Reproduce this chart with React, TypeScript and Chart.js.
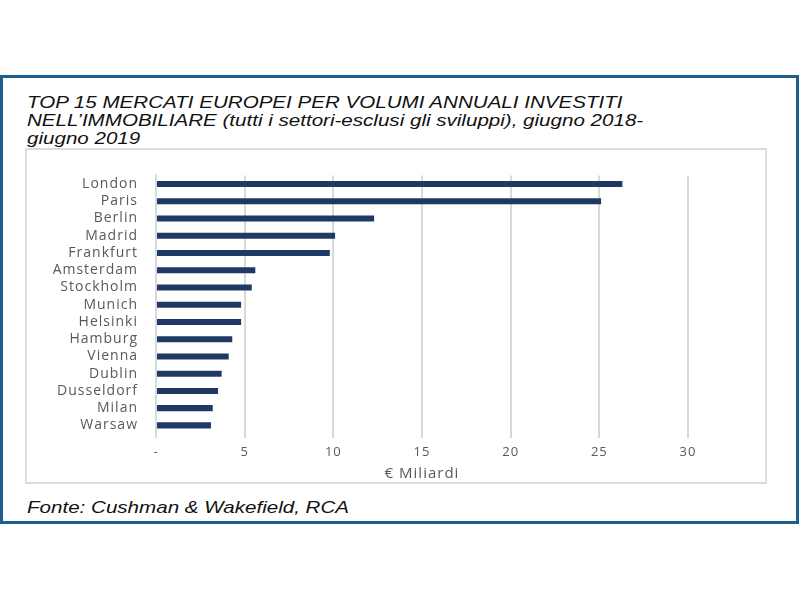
import React, { useEffect, useRef } from "react";
import { Chart, registerables } from "chart.js";

Chart.register(...registerables);

const cities = [
  "London", "Paris", "Berlin", "Madrid", "Frankfurt", "Amsterdam", "Stockholm",
  "Munich", "Helsinki", "Hamburg", "Vienna", "Dublin", "Dusseldorf", "Milan", "Warsaw",
];
const volumes = [26.3, 25.1, 12.3, 10.1, 9.8, 5.6, 5.4, 4.8, 4.8, 4.3, 4.1, 3.7, 3.5, 3.2, 3.1];
const xTicks = [0, 5, 10, 15, 20, 25, 30];
const xTickLabels = ["-", "5", "10", "15", "20", "25", "30"];
const axisTitle = "€ Miliardi";

const spacingPlugin = {
  id: "spacing",
  beforeUpdate(chart: any) {
    chart.ctx.letterSpacing = "1px";
  },
  beforeDraw(chart: any) {
    chart.ctx.letterSpacing = "1px";
  },
};

export default function App() {
  const ref = useRef<HTMLCanvasElement | null>(null);
  useEffect(() => {
    if (!ref.current) return;
    const chart = new Chart(ref.current, {
      type: "bar",
      data: {
        labels: cities,
        datasets: [
          {
            data: volumes,
            backgroundColor: "#1f3864",
            barPercentage: 0.7,
            categoryPercentage: 0.5,
          },
        ],
      },
      plugins: [spacingPlugin],
      options: {
        indexAxis: "y",
        responsive: false,
        animation: false,
        layout: { padding: { left: 0, right: 78, top: 23, bottom: 0 } },
        plugins: { legend: { display: false }, tooltip: { enabled: false } },
        scales: {
          x: {
            min: 0,
            max: 30,
            afterBuildTicks: (s: any) => {
              s.ticks = xTicks.map((v) => ({ value: v }));
            },
            afterFit: (s: any) => {
              s.height = 49;
            },
            ticks: {
              color: "#595959",
              font: { family: "Open Sans", size: 13 },
              padding: 6,
              callback: (v: any) => xTickLabels[xTicks.indexOf(Number(v))],
            },
            grid: { color: "#d9d9d9", lineWidth: 2, tickLength: 4, drawTicks: true },
            border: { display: false },
            title: {
              display: true,
              text: axisTitle,
              color: "#595959",
              font: { family: "Open Sans", size: 15 },
              padding: { top: 0, bottom: 0 },
            },
          },
          y: {
            afterFit: (s: any) => {
              s.width = 130;
            },
            ticks: {
              color: "#595959",
              font: { family: "Open Sans", size: 14 },
              padding: 18,
              autoSkip: false,
            },
            grid: { display: false, drawTicks: false },
            border: { display: true, color: "#d9d9d9", width: 2 },
          },
        },
      },
    });
    return () => chart.destroy();
  }, []);

  const textStyle: React.CSSProperties = {
    position: "absolute",
    left: 27,
    fontFamily: "'Liberation Sans', Arial, sans-serif",
    fontStyle: "italic",
    fontSize: 17,
    color: "#111",
    whiteSpace: "nowrap",
    transform: "scaleX(1.21)",
    transformOrigin: "left top",
  };

  return (
    <div style={{ position: "absolute", left: 0, top: 0, width: 800, height: 600, background: "#fff", overflow: "hidden" }}>
      <div
        style={{
          position: "absolute",
          left: 0,
          top: 75,
          width: 799,
          height: 449,
          border: "3px solid #1c5f8f",
          boxSizing: "border-box",
        }}
      />
      <div style={{ ...textStyle, top: 94, lineHeight: "18px" }}>
        TOP 15 MERCATI EUROPEI PER VOLUMI ANNUALI INVESTITI
        <br />
        NELL’IMMOBILIARE (tutti i settori-esclusi gli sviluppi), giugno 2018-
        <br />
        giugno 2019
      </div>
      <canvas
        ref={ref}
        width={740}
        height={334}
        style={{ position: "absolute", left: 26, top: 149, width: 740, height: 334 }}
      />
      <div
        style={{
          position: "absolute",
          left: 25,
          top: 148,
          width: 742,
          height: 336,
          border: "2px solid #dcdcdc",
          boxSizing: "border-box",
        }}
      />
      <div style={{ ...textStyle, top: 498, lineHeight: "20px" }}>
        Fonte: Cushman &amp; Wakefield, RCA
      </div>
    </div>
  );
}
